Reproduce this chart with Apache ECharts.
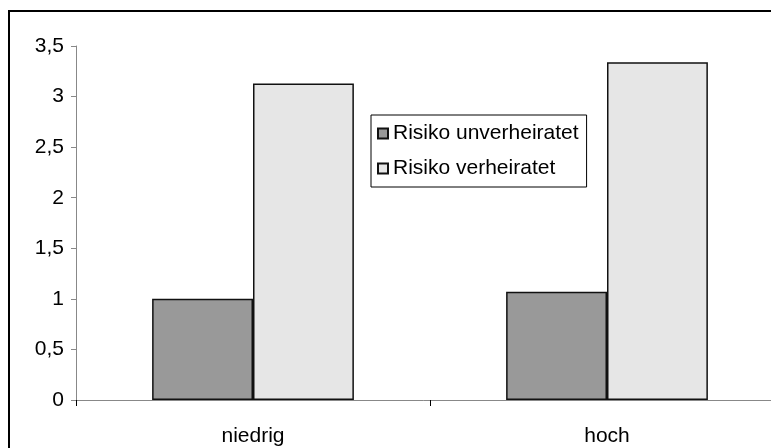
<!DOCTYPE html>
<html>
<head>
<meta charset="utf-8">
<script src="https://cdn.jsdelivr.net/npm/echarts@6/dist/echarts.min.js"></script>
<style>
  html, body { margin: 0; padding: 0; background: #fff; }
  #chart { width: 771px; height: 448px; }
</style>
</head>
<body>
<div id="chart"></div>
<script>
// Daten
const categories = ['niedrig', 'hoch'];
const unverheiratet = [1.0, 1.07];
const verheiratet = [3.13, 3.34];
const seriesNames = ['Risiko unverheiratet', 'Risiko verheiratet'];

const font = 'Liberation Sans, Arial, sans-serif';

const chart = echarts.init(document.getElementById('chart'));
chart.setOption({
  animation: false,
  backgroundColor: '#fff',
  // aeusserer Rahmen, rechts und unten abgeschnitten
  graphic: [{
    type: 'rect',
    shape: { x: 9, y: 11, width: 800, height: 500 },
    style: { fill: 'none', stroke: '#000', lineWidth: 2 },
    silent: true
  }],
  grid: { left: 76, top: 46, bottom: 48, width: 708, outerBoundsMode: 'none', containLabel: false },
  legend: {
    orient: 'vertical',
    left: 371,
    top: 115,
    padding: [7, 8, 7, 6],
    itemGap: 12,
    itemWidth: 10,
    itemHeight: 10,
    borderColor: '#000',
    borderWidth: 1,
    icon: 'rect',
    textStyle: { fontFamily: font, fontSize: 21, color: '#000', lineHeight: 23 },
    data: seriesNames
  },
  xAxis: {
    type: 'category',
    data: categories,
    axisLine: { lineStyle: { color: '#888', width: 1 } },
    axisTick: { show: true, length: 6, lineStyle: { color: '#000' } },
    axisLabel: { fontFamily: font, fontSize: 21, color: '#000', margin: 26 }
  },
  yAxis: {
    type: 'value',
    min: 0,
    max: 3.5,
    interval: 0.5,
    splitLine: { show: false },
    axisLine: { show: true, lineStyle: { color: '#888', width: 1 } },
    axisTick: { show: true, length: 5, lineStyle: { color: '#888' } },
    axisLabel: {
      fontFamily: font, fontSize: 21, color: '#000', margin: 12,
      formatter: v => String(v).replace('.', ',')
    }
  },
  series: [
    {
      name: seriesNames[0],
      type: 'bar',
      data: unverheiratet,
      barGap: '0%',
      barCategoryGap: '43%',
      itemStyle: { color: '#999999', borderColor: '#111', borderWidth: 1.5 }
    },
    {
      name: seriesNames[1],
      type: 'bar',
      data: verheiratet,
      itemStyle: { color: '#e6e6e6', borderColor: '#111', borderWidth: 1.5 }
    }
  ]
});
</script>
</body>
</html>
